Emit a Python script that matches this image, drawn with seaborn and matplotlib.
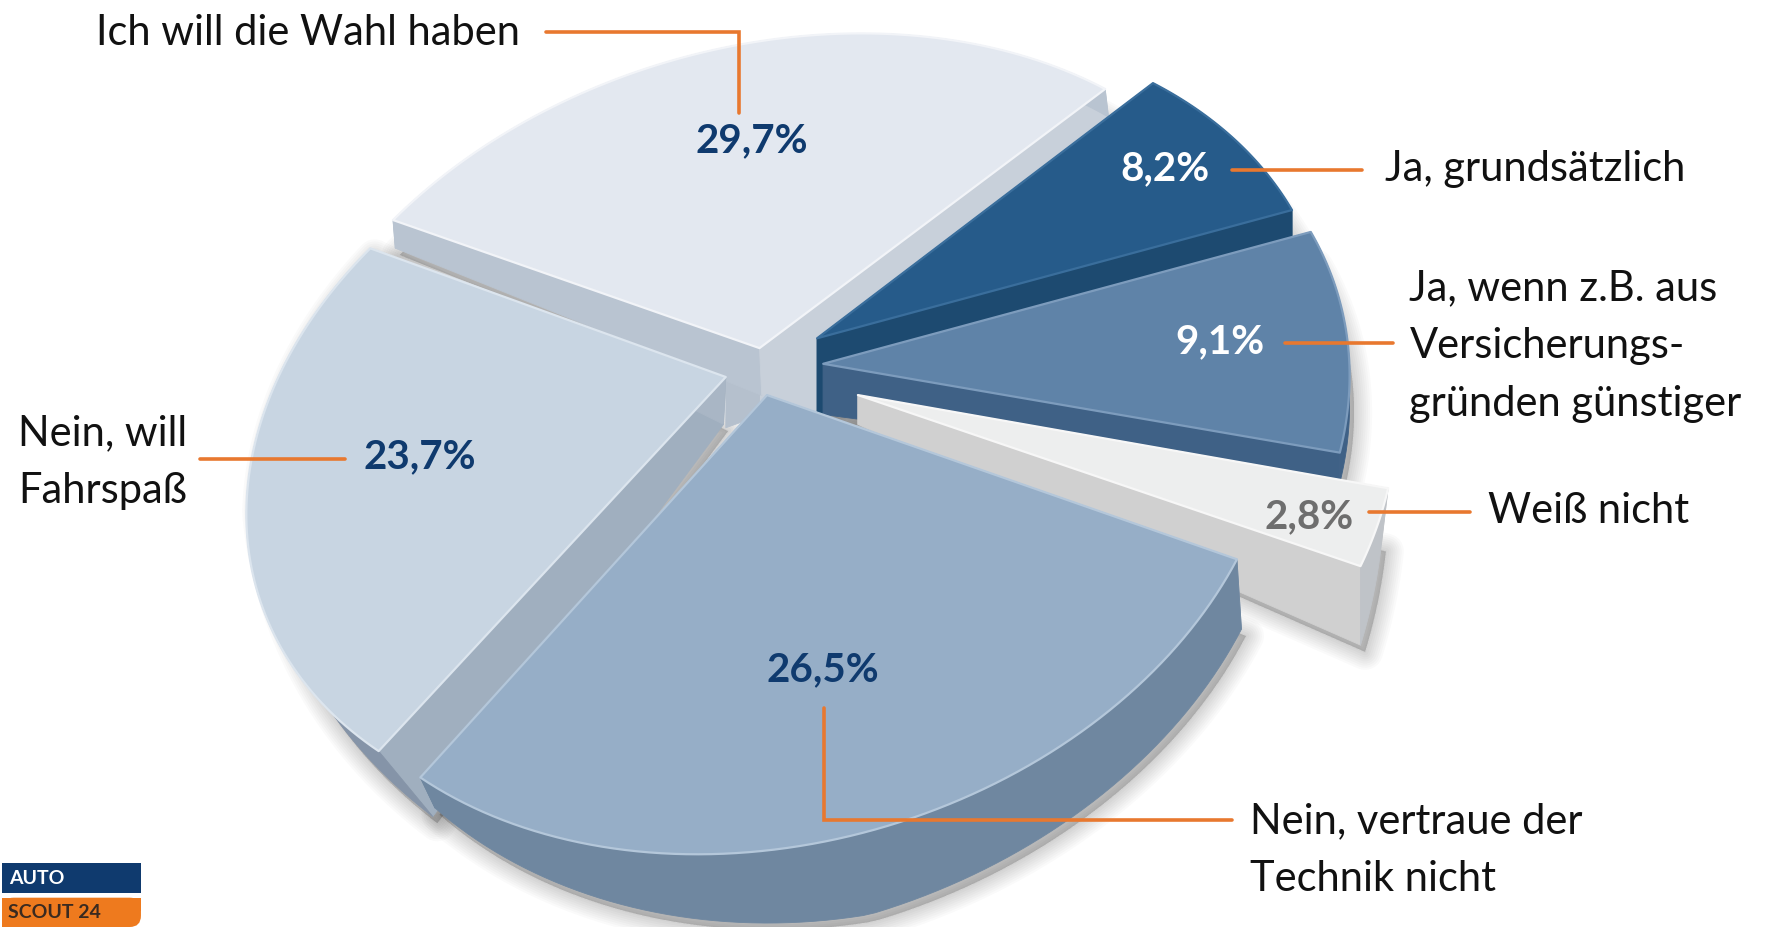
import numpy as np
import matplotlib
matplotlib.use("Agg")
import matplotlib.pyplot as plt
from matplotlib.patches import Polygon, Rectangle, FancyBboxPatch
import seaborn as sns

# ---- data
labels = ["Ja, grundsätzlich", "Ja, wenn z.B. aus\nVersicherungs-\ngründen günstiger",
          "Weiß nicht", "Nein, vertraue der\nTechnik nicht", "Nein, will\nFahrspaß",
          "Ich will die Wahl haben"]
values = [8.2, 9.1, 2.8, 26.5, 23.7, 29.7]
value_texts = ["8,2%", "9,1%", "2,8%", "26,5%", "23,7%", "29,7%"]

# ---- style
explode = [0.12, 0.10, 0.19, 0.07, 0.065, 0.06]
nudge = [(-3, -2), (6, 0), (5, 6), (-5, 3), (-8, 2), (-5, 3)]
radius = [0.985, 1.0, 1.0, 0.97, 0.97, 1.005]
top_cols = sns.color_palette(["#265B8A", "#5F83A8", "#EDEEEE", "#96AEC7", "#C8D5E2", "#E3E8F0"])
cut_start = ["#1D4A70", "#3F6186", "#D0D0D0", "#A0AFBF", "#A0AFBF", "#B9C4D1"]
cut_end = ["#1D4A70", "#3F6186", "#D0D0D0", "#6F87A0", "#A9B6C5", "#C8D0DA"]
arc_cols = ["#1D4A70", "#3F6186", "#BFC3C8", "#6F87A0", "#8594A8", "#B9C4D1"]
rim_cols = ["#3A6E9C", "#7D9CBD", "#F7F7F7", "#B4C7DA", "#DCE5EE", "#F2F4F8"]
val_cols = ["white", "white", "#6E6E6E", "#0F3A6E", "#0F3A6E", "#0F3A6E"]
# extrusion vectors: apex, rim start, rim middle, rim end
extr = [[(0, 70), (0, 22), (0, 23), (0, 24)],
        [(0, 45), (0, 25), (0, 26), (0, 27)],
        [(0, 26), (-6, 50), (-3, 60), (0, 70)],
        [(0, 40), (4, 62), (0, 74), (13, 27)],
        [(-2, 42), (48, 58), (8, 6), (0, 2)],
        [(2, 42), (2, 25), (0, 10), (3, 25)]]
draw_order = [5, 0, 1, 2, 4, 3]
CX, CY, BX, AY, K, M = 680, 325, 440, 333, 0.188, 0.04
SHEAR_X, SHEAR_Y = -0.10, -0.08

sns.set_theme(style="white")
plt.rcParams["font.family"] = ["Lato", "DejaVu Sans"]
fig = plt.figure(figsize=(17.68, 9.27), dpi=100, facecolor="white")
ax = fig.add_axes([0, 0, 1, 1])
wedges, _ = ax.pie(values, explode=explode, startangle=44, counterclock=False)
geo = [(np.array(w.center), w.r, w.theta1, w.theta2) for w in wedges]
for w in wedges:
    w.remove()
ax.set_aspect("auto")
ax.set_xlim(0, 1568)
ax.set_ylim(822, 0)
ax.axis("off")


def project(p):
    p = np.atleast_2d(p)
    w = 1 + K * p[:, 1] - M * p[:, 0]
    X, Y = BX * p[:, 0] / w, -AY * p[:, 1] / w
    return np.c_[CX + X + SHEAR_X * Y, CY + Y + SHEAR_Y * X]


def slice_points(center, r, t1, t2, n=80):
    th = np.radians(np.linspace(t2, t1, n))
    return center + r * np.c_[np.cos(th), np.sin(th)]


def slice_geo(i):
    c, r, t1, t2 = geo[i]
    rim = project(slice_points(c, r * radius[i], t1, t2)) + nudge[i]
    apex = project(c)[0] + nudge[i]
    e = np.array(extr[i], float)
    tt = np.linspace(0, 1, len(rim))
    d = np.c_[np.interp(tt, [0, .5, 1], e[1:, 0]), np.interp(tt, [0, .5, 1], e[1:, 1])]
    return apex, rim, e[0], d


def poly(pts, col, z, **kw):
    ax.add_patch(Polygon(pts, closed=True, facecolor=col, edgecolor=kw.pop("ec", col),
                         lw=kw.pop("lw", 0.6), zorder=z, joinstyle="round", **kw))


# soft shadow
for i in draw_order:
    apex, rim, e0, d = slice_geo(i)
    low = np.vstack([apex + e0, rim + d]) + [4, 6]
    for lw in np.arange(26, 1, -3):
        ax.add_patch(Polygon(low, closed=True, fc=(0, 0, 0, 0.02), ec=(0, 0, 0, 0.02),
                             lw=lw, zorder=1, joinstyle="round"))

# hub: the inner faces seen between the slices
a_back = slice_geo(5)[0]
a_right = slice_geo(0)[0]
a_left = slice_geo(4)[0]
poly([a_back, a_right, a_right + (0, 70), a_back + (0, 60)], "#C8D0DA", 1.5)
poly([a_back, a_left, a_left + (0, 45), a_back + (0, 60)], "#B5C0CD", 1.5)

# slices
for rank, i in enumerate(draw_order):
    apex, rim, e0, d = slice_geo(i)
    z = 2 + rank
    poly([apex, rim[0], rim[0] + d[0], apex + e0], cut_start[i], z)
    poly([apex, rim[-1], rim[-1] + d[-1], apex + e0], cut_end[i], z)
    poly(np.vstack([rim, (rim + d)[::-1]]), arc_cols[i], z)
    poly(np.vstack([apex, rim]), top_cols[i], z, ec=rim_cols[i], lw=1.6)

# annotations
LINE = "#E8782F"
TZ = 20
segs = [[(1093, 151), (1208, 151)],
        [(1140, 304), (1235, 304)],
        [(1214, 454), (1304, 454)],
        [(731, 628), (731, 727), (1093, 727)],
        [(177, 407), (306, 407)],
        [(484, 28), (655, 28), (655, 100)]]
for s in segs:
    xs, ys = zip(*s)
    ax.plot(xs, ys, color=LINE, lw=2.6, zorder=TZ, solid_joinstyle="miter")

val_pos = [(1033, 150), (1082, 303), (1161, 458), (730, 594), (372, 405), (667, 125)]
for t, (x, y), col in zip(value_texts, val_pos, val_cols):
    ax.text(x, y, t, color=col, ha="center", va="center", fontsize=29, fontweight="bold", zorder=TZ)

lab_pos = [(1228, 150, "left"), (1250, 307, "left"), (1320, 453, "left"),
           (1109, 754, "left"), (166, 410, "right"), (85, 29, "left")]
for t, (x, y, ha) in zip(labels, lab_pos):
    ax.text(x, y, t, color="#111111", ha=ha, va="center", fontsize=30, linespacing=1.65, zorder=TZ)

# logo
ax.add_patch(Rectangle((2, 765), 123, 27, fc="#0F3A6E", ec="none", zorder=TZ))
ax.add_patch(FancyBboxPatch((2, 796), 123, 26, boxstyle="round,pad=0,rounding_size=10",
                            fc="#EE7A1E", ec="none", zorder=TZ, mutation_aspect=1))
ax.add_patch(Rectangle((2, 796), 123, 12, fc="#EE7A1E", ec="none", zorder=TZ))
ax.add_patch(Rectangle((2, 796), 40, 26, fc="#EE7A1E", ec="none", zorder=TZ))
ax.text(8, 779, "AUTO", color="white", fontsize=14, fontweight="bold", va="center", zorder=TZ + 1)
ax.text(7, 809, "SCOUT 24", color="#3A2A20", fontsize=14, fontweight="bold", va="center", zorder=TZ + 1)

fig.savefig("out.png", dpi=100, facecolor="white")
